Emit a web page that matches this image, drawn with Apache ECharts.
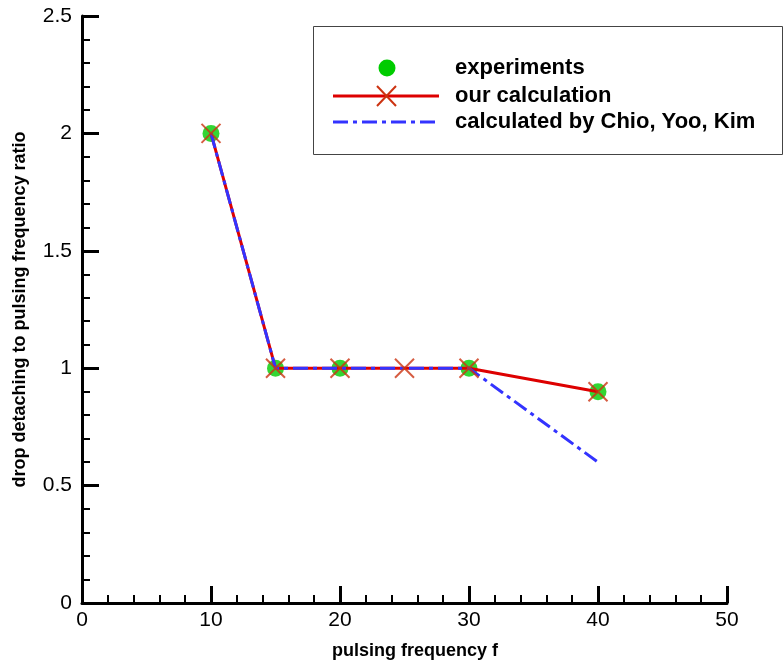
<!DOCTYPE html>
<html>
<head>
<meta charset="utf-8">
<script src="https://cdn.jsdelivr.net/npm/echarts@6/dist/echarts.min.js"></script>
<style>html,body{margin:0;padding:0;background:#fff;}#c{width:783px;height:669px;}</style>
</head>
<body>
<div id="c"></div>
<script>
// Data
const expX = [10, 15, 20, 30, 40];
const expY = [2, 1, 1, 1, 0.9];
const ourX = [10, 15, 20, 25, 30, 40];
const ourY = [2, 1, 1, 1, 1, 0.9];
const chioX = [10, 15, 20, 25, 30, 40];
const chioY = [2, 1, 1, 1, 1, 0.6];
const legendNames = ['experiments', 'our calculation', 'calculated by Chio, Yoo, Kim'];
const xAxisName = 'pulsing frequency f';
const yAxisName = 'drop detaching to pulsing frequency ratio';

const FONT = '"Liberation Sans", Arial, Helvetica, sans-serif';
const zip = (a, b) => a.map((v, i) => [v, b[i]]);

const chart = echarts.init(document.getElementById('c'), null, {renderer: 'canvas'});
const axisCommon = {
  axisLine: {show: true, onZero: false, lineStyle: {color: '#000', width: 3}},
  axisTick: {show: true, inside: true, length: 17, lineStyle: {color: '#000', width: 3}},
  minorTick: {show: true, splitNumber: 5, length: 8, lineStyle: {color: '#000', width: 2}},
  splitLine: {show: false},
  nameTextStyle: {fontFamily: FONT, fontSize: 18, fontWeight: 'bold', color: '#000'}
};
chart.setOption({
  animation: false,
  backgroundColor: '#fff',
  grid: {left: 82, right: 56, top: 16, bottom: 66, containLabel: false},
  xAxis: Object.assign({}, axisCommon, {
    type: 'value', min: 0, max: 50, interval: 10,
    name: xAxisName, nameLocation: 'middle', nameGap: 39,
    nameTextStyle: {fontFamily: FONT, fontSize: 18, fontWeight: 'bold', color: '#000', padding: [0, 0, 0, 21]},
    axisLabel: {fontFamily: FONT, fontSize: 21, color: '#000', margin: 7}
  }),
  yAxis: Object.assign({}, axisCommon, {
    type: 'value', min: 0, max: 2.5, interval: 0.5,
    name: yAxisName, nameLocation: 'middle', nameGap: 53, nameRotate: 90,
    axisLabel: {fontFamily: FONT, fontSize: 21, color: '#000', margin: 10}
  }),
  series: [
    {
      name: legendNames[0], type: 'scatter', data: zip(expX, expY), z: 2,
      symbol: 'circle', symbolSize: 17, itemStyle: {color: '#00cc00'}
    },
    {
      name: legendNames[1], type: 'line', data: zip(ourX, ourY), z: 3,
      showSymbol: false, lineStyle: {color: '#dd0000', width: 3}, itemStyle: {color: '#dd0000'}
    },
    {
      name: legendNames[2], type: 'line', data: zip(chioX, chioY), z: 4,
      showSymbol: false, lineStyle: {color: '#3333ff', width: 3, type: [15, 5, 4, 5]}, itemStyle: {color: '#3333ff'}
    },
    {
      name: legendNames[1] + ' markers', type: 'scatter', data: zip(ourX, ourY), z: 5,
      symbol: 'path://M0,0L10,10M10,0L0,10', symbolSize: 19,
      itemStyle: {color: 'transparent', borderColor: '#cc3311', borderWidth: 2}
    }
  ],
  graphic: [
    {type: 'rect', left: 313, top: 26, shape: {width: 469, height: 128}, style: {fill: '#fff', stroke: '#444', lineWidth: 1}, z: 10},
    {type: 'circle', shape: {cx: 387, cy: 68, r: 8.5}, style: {fill: '#00cc00'}, z: 11},
    {type: 'line', shape: {x1: 333, y1: 96, x2: 439, y2: 96}, style: {stroke: '#dd0000', lineWidth: 3}, z: 11},
    {type: 'line', shape: {x1: 377, y1: 86, x2: 396, y2: 106}, style: {stroke: '#cc3311', lineWidth: 2}, z: 12},
    {type: 'line', shape: {x1: 396, y1: 86, x2: 377, y2: 106}, style: {stroke: '#cc3311', lineWidth: 2}, z: 12},
    {type: 'line', shape: {x1: 333, y1: 122, x2: 439, y2: 122}, style: {stroke: '#3333ff', lineWidth: 3, lineDash: [15, 5, 4, 5]}, z: 11},
    {type: 'text', x: 455, y: 68, style: {text: legendNames[0], font: 'bold 22px ' + FONT, fill: '#000', verticalAlign: 'middle'}, z: 11},
    {type: 'text', x: 455, y: 96, style: {text: legendNames[1], font: 'bold 22px ' + FONT, fill: '#000', verticalAlign: 'middle'}, z: 11},
    {type: 'text', x: 455, y: 122, style: {text: legendNames[2], font: 'bold 22px ' + FONT, fill: '#000', verticalAlign: 'middle'}, z: 11}
  ]
});
</script>
</body>
</html>
